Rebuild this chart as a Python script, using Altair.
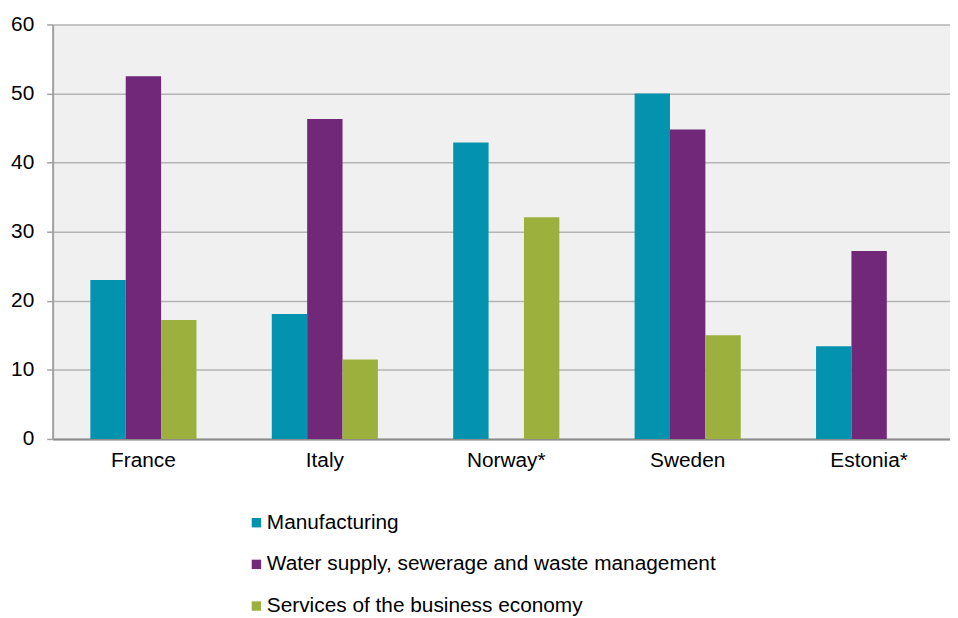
import altair as alt
import pandas as pd

countries = ["France", "Italy", "Norway*", "Sweden", "Estonia*"]
series = ["Manufacturing", "Water supply, sewerage and waste management", "Services of the business economy"]
manufacturing = [23.0, 18.1, 42.9, 50.0, 13.4]
water = [52.5, 46.3, None, 44.8, 27.2]
services = [17.2, 11.5, 32.1, 15.0, None]
colors = ["#0493ae", "#712878", "#9cb13d"]

rows = []
for i, c in enumerate(countries):
    for s, vals in zip(series, [manufacturing, water, services]):
        if vals[i] is not None:
            rows.append({"country": c, "series": s, "value": vals[i]})
df = pd.DataFrame(rows)

FONT = "Liberation Sans"

chart = alt.Chart(df).mark_bar().encode(
    x=alt.X("country:N", sort=countries, title=None,
            scale=alt.Scale(paddingInner=0.415, paddingOuter=0.208, range=[0, 915]),
            axis=alt.Axis(labelAngle=0, labelFontSize=21, labelFont=FONT,
                          labelColor="#000000", ticks=False, domainColor="#8c8c8c",
                          domainWidth=2, labelPadding=11, grid=False)),
    xOffset=alt.XOffset("series:N", sort=series, scale=alt.Scale(domain=series)),
    y=alt.Y("value:Q", title=None,
            scale=alt.Scale(domain=[0, 60], nice=False),
            axis=alt.Axis(values=[0, 10, 20, 30, 40, 50, 60], labelFontSize=21,
                          labelFont=FONT, labelColor="#000000",
                          tickColor="#a0a0a0", tickSize=6, tickWidth=1.5,
                          domainColor="#a0a0a0", domainWidth=2, labelPadding=13,
                          gridColor="#b4b4b4", gridWidth=1.5)),
    color=alt.Color("series:N", sort=series,
                    scale=alt.Scale(domain=series, range=colors),
                    legend=alt.Legend(title=None, orient="none", legendX=195, legendY=492,
                                      direction="vertical", symbolType="square",
                                      symbolSize=90, symbolStrokeWidth=0,
                                      labelFontSize=21, labelFont=FONT,
                                      labelColor="#000000", rowPadding=20,
                                      labelOffset=0, labelLimit=700)),
).properties(
    width=905, height=418,
    autosize=alt.AutoSizeParams(type="none"),
    padding={"left": 45, "top": 14, "right": 0, "bottom": 180},
).configure_view(
    fill="#f0f0f0", stroke=None
)

chart.save("out.html", embed_options={"renderer": "svg", "actions": False})
